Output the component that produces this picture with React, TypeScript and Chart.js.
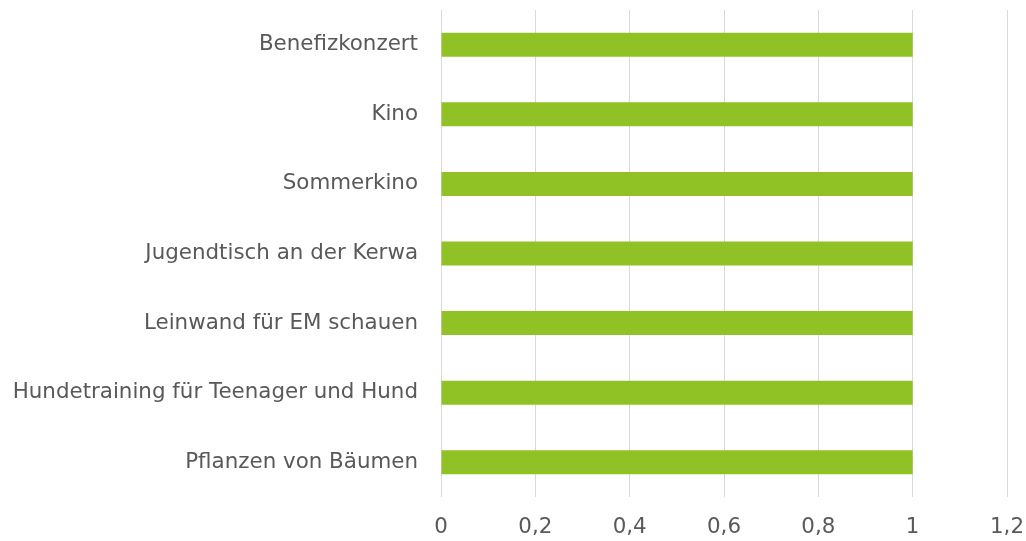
import React, { useEffect, useRef } from "react";
import { Chart, registerables } from "chart.js";

Chart.register(...registerables);

const categories = [
  "Benefizkonzert",
  "Kino",
  "Sommerkino",
  "Jugendtisch an der Kerwa",
  "Leinwand für EM schauen",
  "Hundetraining für Teenager und Hund",
  "Pflanzen von Bäumen",
];
const values = [1, 1, 1, 1, 1, 1, 1];
const xTickValues = [0, 0.2, 0.4, 0.6, 0.8, 1, 1.2];

export default function App() {
  const ref = useRef<HTMLCanvasElement | null>(null);
  useEffect(() => {
    if (!ref.current) return;
    const font = { family: "'DejaVu Sans', sans-serif", size: 21.4 };
    const chart = new Chart(ref.current, {
      type: "bar",
      data: {
        labels: categories,
        datasets: [
          {
            data: values,
            backgroundColor: "rgb(144,194,38)",
            barPercentage: 0.69,
            categoryPercentage: 0.5,
          },
        ],
      },
      options: {
        indexAxis: "y",
        animation: false,
        responsive: true,
        maintainAspectRatio: false,
        layout: { padding: { top: 10, right: 19, left: 0, bottom: 0 } },
        plugins: { legend: { display: false }, tooltip: { enabled: false } },
        scales: {
          x: {
            min: 0,
            max: 1.2,
            afterBuildTicks: (scale: any) => {
              scale.ticks = xTickValues.map((v) => ({ value: v }));
            },
            afterFit: (scale: any) => {
              scale.height = 44;
              scale.paddingLeft = 0;
              scale.paddingRight = 0;
            },
            border: { display: false },
            grid: { color: "#d9d9d9", lineWidth: 1, drawTicks: false },
            ticks: {
              color: "#595959",
              font,
              padding: 18,
              callback: (v: any) => String(Number(v)).replace(".", ","),
            },
          },
          y: {
            afterFit: (scale: any) => {
              scale.width = 441;
              scale.paddingTop = 0;
              scale.paddingBottom = 0;
            },
            border: { display: false },
            grid: { display: false, drawTicks: false },
            ticks: { color: "#595959", font, padding: 23 },
          },
        },
      },
    });
    return () => chart.destroy();
  }, []);
  return (
    <div style={{ position: "fixed", left: 0, top: 0, width: 1026, height: 541, background: "#fff" }}>
      <canvas ref={ref} />
    </div>
  );
}
